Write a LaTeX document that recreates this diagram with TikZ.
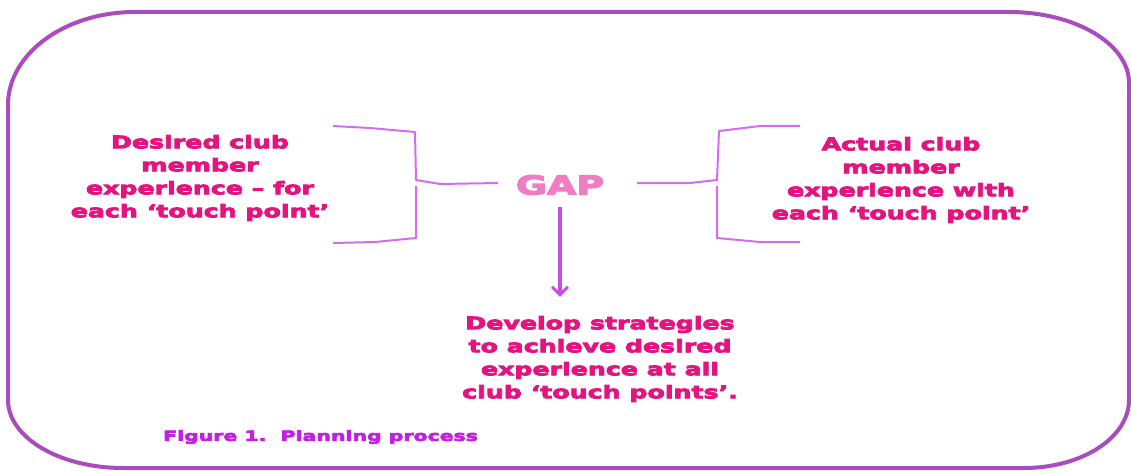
\documentclass[tikz,border=0pt]{standalone}
\usepackage{fontspec}
\setmainfont{DejaVu Sans}[FakeStretch=1.46,FakeBold=5]
\usetikzlibrary{arrows.meta}
\definecolor{txtpink}{HTML}{E3147F}
\definecolor{gappink}{HTML}{F07CC2}
\definecolor{bracev}{HTML}{D46CF2}
\definecolor{arrowv}{HTML}{C64EE6}
\definecolor{borderv}{HTML}{A94CBC}
\definecolor{capv}{HTML}{C21FE2}
\begin{document}
\begin{tikzpicture}[x=1pt,y=-1pt,
  maintxt/.style={text=txtpink,font=\fontsize{17.3}{23}\selectfont\bfseries,align=center,inner sep=0pt},
  bracestyle/.style={draw=bracev,line width=2pt,line join=round},
  arrowstyle/.style={draw=arrowv,line width=3.6pt,-{Straight Barb[length=8pt,width=16pt,line width=3pt]}},
  borderstyle/.style={draw=borderv,line width=4pt}]
\useasboundingbox (0,0) rectangle (1131,473);
% border
\path[borderstyle] (8,105) -- (8,400)
  .. controls (8,437.5) and (59.5,468) .. (123,468) -- (1024,468)
  .. controls (1082,468) and (1129,437.5) .. (1129,400) -- (1129,83)
  .. controls (1129,43.8) and (1075,12) .. (1009,12) -- (135,12)
  .. controls (65,12) and (8,53.7) .. (8,105) -- cycle;
% texts
\node[maintxt] (desired) at (200,178) {Desired club\\member\\experience -- for\\each ‘touch point’};
\node[maintxt] (actual) at (901,180) {Actual club\\member\\experience with\\each ‘touch point’};
\node[text=gappink,font=\fontsize{26}{30}\selectfont\bfseries,inner sep=2pt] (gap) at (560,185) {GAP};
\node[maintxt] (strat) at (600,359) {Develop strategies\\to achieve desired\\experience at all\\club ‘touch points’.};
\node[text=capv,font=\fontsize{14}{17}\selectfont\bfseries,anchor=west,inner sep=0pt] (cap) at (163,437) {Figure 1.\ \ Planning process};
% braces
\coordinate (lb) at (498,183);
\coordinate (rb) at (637,183);
\path[bracestyle] (333,126) -- (370,128) -- (415,132) -- (416,180) -- (440,184) -- (lb);
\path[bracestyle] (416,186) -- (416,238) -- (375,242) -- (333,243);
\path[bracestyle] (rb) -- (690,183) -- (717,180) -- (719,131) -- (760,126) -- (800,126);
\path[bracestyle] (717,186) -- (717,238) -- (760,242) -- (800,242);
% arrow
\coordinate (as) at (560,207);
\path[arrowstyle] (as) -- ([yshift=19pt]strat.north -| as);
\end{tikzpicture}
\end{document}
